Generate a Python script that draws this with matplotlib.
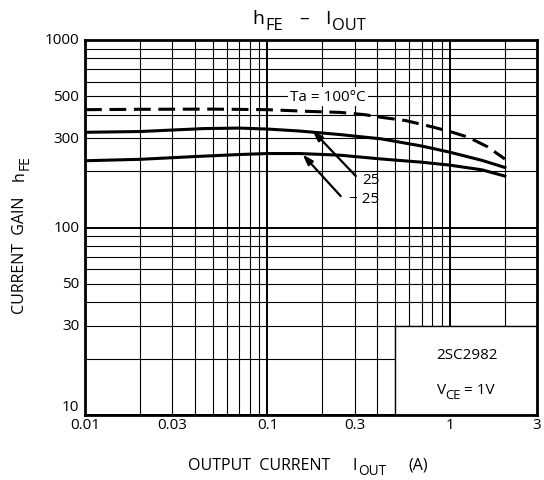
import numpy as np
import matplotlib
matplotlib.use('Agg')
import matplotlib.pyplot as plt
from matplotlib.patches import Rectangle
from matplotlib.ticker import LogLocator, FixedLocator, NullFormatter

plt.rcParams['font.family'] = ['Open Sans', 'DejaVu Sans']

# hFE - IOUT curves
x_100 = [0.01, 0.02, 0.05, 0.1, 0.17, 0.25, 0.34, 0.42, 0.57, 0.79, 1.0, 1.26, 1.6, 2.0]
hfe_100 = [425, 427, 428, 425, 416, 411, 400, 387, 372, 345, 325, 303, 270, 232]

x_25 = [0.01, 0.02, 0.045, 0.07, 0.1, 0.15, 0.25, 0.42, 0.7, 1.0, 1.5, 2.0]
hfe_25 = [322, 325, 337, 339, 335, 327, 313, 297, 272, 252, 228, 209]

x_m25 = [0.01, 0.02, 0.04, 0.07, 0.1, 0.15, 0.25, 0.42, 0.7, 1.0, 1.5, 2.0]
hfe_m25 = [227, 231, 239, 245, 248, 248, 243, 232, 223, 215, 203, 188]

xticks = [0.01, 0.03, 0.1, 0.3, 1, 3]
xticklabels = ['0.01', '0.03', '0.1', '0.3', '1', '3']
yticks = [30, 50, 100, 300, 500, 1000]
yticklabels = ['30', '50', '100', '300', '500', '1000']

W, H = 544, 481
fig = plt.figure(figsize=(W / 100, H / 100), dpi=100)
renderer = fig.canvas.get_renderer()


def rich(px, py, parts, fs, rot=0):
    # parts: (text, subscript?, gap after in px); px, py = centre in pixels from top-left
    widths = []
    for s, sub, gap in parts:
        t = fig.text(0, 0, s, fontsize=fs * (0.85 if sub else 1))
        widths.append(t.get_window_extent(renderer).width)
        t.remove()
    total = sum(widths) + sum(p[2] for p in parts[:-1])
    pos = -total / 2
    for (s, sub, gap), w in zip(parts, widths):
        drop = fs * 0.32 * 100 / 72 if sub else 0
        if rot == 0:
            x, y = px + pos, H - py - drop
        else:
            x, y = px + drop, H - py + pos
        fig.text(x / W, y / H, s, fontsize=fs * (0.85 if sub else 1), rotation=rot,
                 rotation_mode='anchor', ha='left', va='baseline')
        pos += w + gap


ax = fig.add_axes([85 / W, 1 - 416 / H, 452 / W, 375 / H])
ax.set_xscale('log')
ax.set_yscale('log')
ax.set_xlim(0.01, 3)
ax.set_ylim(10, 1000)
ax.set_axisbelow(True)

# grid: decades a bit heavier
ax.xaxis.set_major_locator(FixedLocator([0.01, 0.1, 1]))
ax.yaxis.set_major_locator(FixedLocator([10, 100, 1000]))
ax.xaxis.set_minor_locator(LogLocator(base=10, subs=np.arange(2, 10)))
ax.yaxis.set_minor_locator(LogLocator(base=10, subs=np.arange(2, 10)))
ax.xaxis.set_minor_formatter(NullFormatter())
ax.yaxis.set_minor_formatter(NullFormatter())
ax.grid(which='major', color='black', lw=1.4)
ax.grid(which='minor', color='black', lw=0.8)
ax.tick_params(which='both', length=0)
ax.set_xticklabels([])
ax.set_yticklabels([])
for v, s in zip(xticks, xticklabels):
    ax.text(v, 9.75, s, ha='center', va='top', fontsize=11)
for v, s in zip(yticks, yticklabels):
    ax.text(0.0093, v, s, ha='right', va='center', fontsize=11)
ax.text(0.0093, 10.15, '10', ha='right', va='bottom', fontsize=11)

for sp in ax.spines.values():
    sp.set_linewidth(2)

# blank box for part number
ax.add_patch(Rectangle((0.5, 10), 2.5, 20, facecolor='white', edgecolor='black',
                       lw=1, zorder=1))
ax.text(1.24, 20.9, '2SC2982', ha='center', va='center', fontsize=11, zorder=3)

ax.plot(x_100, hfe_100, color='black', lw=2.2, ls=(0, (5.5, 2.5)), zorder=4)
ax.plot(x_25, hfe_25, color='black', lw=2.2, zorder=4)
ax.plot(x_m25, hfe_m25, color='black', lw=2.2, zorder=4)

ax.text(0.214, 500, 'Ta = 100°C', ha='center', va='center', fontsize=11, zorder=3,
        bbox=dict(facecolor='white', edgecolor='none', pad=1.5))
ax.annotate('', xy=(0.177, 328), xytext=(0.305, 188),
            arrowprops=dict(arrowstyle='-|>,head_length=0.6,head_width=0.2',
                            color='black', lw=1.6, shrinkA=0, shrinkB=0), zorder=5)
ax.annotate('', xy=(0.156, 245), xytext=(0.252, 147),
            arrowprops=dict(arrowstyle='-|>,head_length=0.6,head_width=0.2',
                            color='black', lw=1.6, shrinkA=0, shrinkB=0), zorder=5)
ax.text(0.368, 181, '25', ha='center', va='center', fontsize=11, zorder=5)
ax.text(0.337, 142, '− 25', ha='center', va='center', fontsize=11, zorder=5)

rich(309, 24, [('h', False, 1), ('FE', True, 16), ('–', False, 16),
               ('I', False, 1), ('OUT', True, 0)], 14)
rich(466, 394, [('V', False, -1), ('CE', True, 3), ('= 1V', False, 0)], 11)
rich(308, 470, [('OUTPUT  CURRENT', False, 22), ('I', False, 1), ('OUT', True, 22),
                ('(A)', False, 0)], 11.5)
rich(24, 235, [('CURRENT  GAIN', False, 16), ('h', False, 1), ('FE', True, 0)],
     11.5, rot=90)

fig.savefig('out.png', dpi=100)
